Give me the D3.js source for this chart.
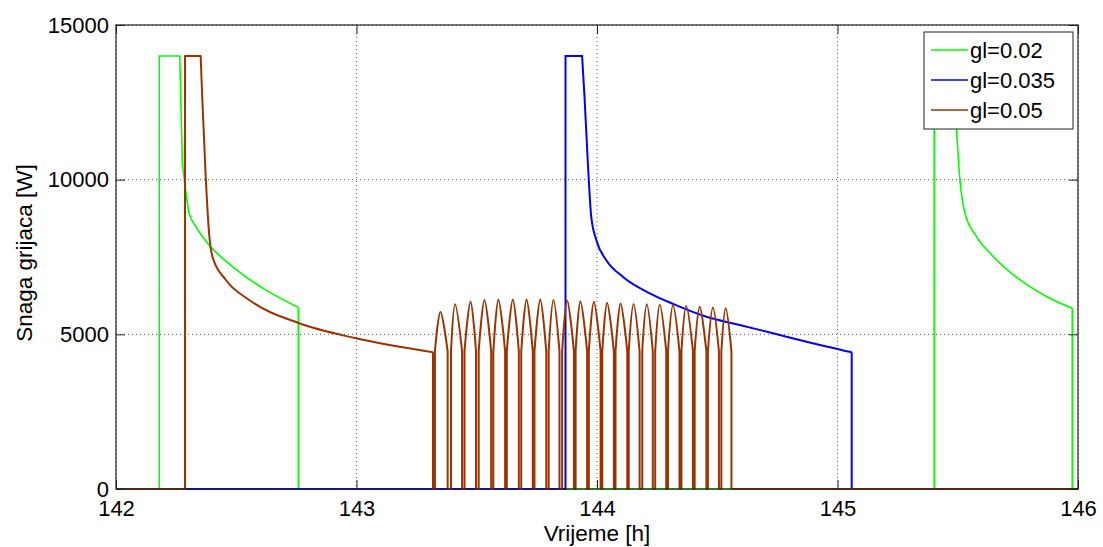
<!DOCTYPE html>
<html>
<head>
<meta charset="utf-8">
<script src="https://cdn.jsdelivr.net/npm/d3@7"></script>
<style>
    body { margin: 0; background: #fff; }
    text { font-family: "Liberation Sans", Arial, sans-serif; fill: #000; }
</style>
</head>
<body>
<div id="chart"></div>
<script>
// ticks and legend
var xTicks = [142, 143, 144, 145, 146];
var yTicks = [0, 5000, 10000, 15000];
var seriesNames = ["gl=0.02", "gl=0.035", "gl=0.05"];
var seriesColors = ["#00ff00", "#0000ff", "#993300"];

// gl=0.02  (time [h], power [W])
var greenT = [142, 142.180, 142.180, 142.265, 142.276, 142.293, 142.304, 142.332, 142.387, 142.484, 142.623, 142.758, 142.758,
    145.402, 145.402, 145.486, 145.495, 145.509, 145.530, 145.578, 145.648, 145.759, 145.870, 145.976, 145.976, 146];
var greenW = [0, 0, 14000, 14000, 10530, 9450, 8920, 8480, 7890, 7190, 6430, 5870, 0,
    0, 14000, 14000, 11607, 9990, 8913, 8157, 7510, 6757, 6217, 5842, 0, 0];

// gl=0.035
var blueT = [142, 143.869, 143.869, 143.938, 143.948, 143.962, 143.976, 143.997, 144.038, 144.107, 144.219, 144.316,
    144.455, 144.593, 144.732, 144.871, 145.059, 145.059, 146];
var blueW = [0, 0, 14000, 14000, 12684, 10530, 8804, 8050, 7404, 6864, 6327, 5987,
    5570, 5302, 5034, 4762, 4420, 0, 0];

// gl=0.05 : first pulse
var brownLeadT = [142, 142.287, 142.287, 142.352, 142.359, 142.373, 142.387, 142.401, 142.457, 142.554, 142.762, 142.998, 143.318, 143.318];
var brownLeadW = [0, 0, 14000, 14000, 12577, 10097, 8267, 7510, 6757, 6110, 5357, 4872, 4420, 0];

// gl=0.05 : on/off cycling
var cycleOnT = [143.326, 143.393, 143.449, 143.508, 143.569, 143.625, 143.685, 143.740, 143.799, 143.855, 143.911,
    143.966, 144.022, 144.077, 144.132, 144.188, 144.242, 144.295, 144.351, 144.406, 144.461, 144.517];
var cyclePeakT = [143.349, 143.410, 143.474, 143.532, 143.590, 143.650, 143.707, 143.764, 143.819, 143.876, 143.931,
    143.987, 144.042, 144.098, 144.152, 144.207, 144.261, 144.316, 144.371, 144.427, 144.482, 144.535];
var cyclePeakW = [5730, 5970, 6060, 6110, 6130, 6130, 6130, 6130, 6110, 6090, 6070,
    6050, 6020, 6000, 5980, 5970, 5960, 5940, 5920, 5890, 5870, 5840];
var cycleOffT = [143.379, 143.439, 143.497, 143.560, 143.618, 143.675, 143.733, 143.789, 143.844, 143.904, 143.959,
    144.015, 144.070, 144.126, 144.177, 144.232, 144.288, 144.343, 144.399, 144.455, 144.507, 144.559];
var cycleEdgeW = 4450;
var brownEndT = 146;

// index ranges of the cooling-down (smooth) parts of each series
var greenSmooth = [[4, 11], [16, 23]];
var blueSmooth = [[4, 16]];
var brownSmooth = [[4, 12]];

var W = 1103, H = 547;
var margin = { top: 25, right: 25, bottom: 58, left: 116 },
    width = W - margin.left - margin.right,
    height = H - margin.top - margin.bottom;

var svg = d3.select("#chart")
    .append("svg")
    .attr("width", W)
    .attr("height", H)
    .append("g")
    .attr("transform", "translate(" + margin.left + "," + margin.top + ")");

var x = d3.scaleLinear().domain([142, 146]).range([0, width]);
var y = d3.scaleLinear().domain([0, 15000]).range([height, 0]);

// dotted grid
svg.append("g").selectAll("line").data(xTicks).enter().append("line")
    .attr("x1", d => x(d)).attr("x2", d => x(d))
    .attr("y1", 0).attr("y2", height)
    .attr("stroke", "#555").attr("stroke-dasharray", "1,3");
svg.append("g").selectAll("line").data(yTicks).enter().append("line")
    .attr("y1", d => y(d)).attr("y2", d => y(d))
    .attr("x1", 0).attr("x2", width)
    .attr("stroke", "#555").attr("stroke-dasharray", "1,3");

svg.append("clipPath").attr("id", "clip")
    .append("rect").attr("width", width).attr("height", height + 1);

var plot = svg.append("g").attr("clip-path", "url(#clip)");

var lineLin = d3.line().x(d => x(d[0])).y(d => y(d[1]));
var lineSmooth = d3.line().x(d => x(d[0])).y(d => y(d[1])).curve(d3.curveMonotoneX);
var arch = d3.line().x(d => x(d[0])).y(d => y(d[1])).curve(d3.curveCatmullRom);

// straight steps, with the given index ranges drawn as smooth curves
function seriesPath(T, Wv, smooth) {
    var pts = d3.zip(T, Wv);
    var d = "", start = 0;
    smooth.forEach(function(r) {
        d += lineLin(pts.slice(start, r[0] + 1));
        d += lineSmooth(pts.slice(r[0], r[1] + 1));
        start = r[1];
    });
    d += lineLin(pts.slice(start));
    return d;
}

plot.append("path")
    .attr("d", seriesPath(greenT, greenW, greenSmooth))
    .attr("fill", "none").attr("stroke", seriesColors[0]).attr("stroke-width", 1.6);

plot.append("path")
    .attr("d", seriesPath(blueT, blueW, blueSmooth))
    .attr("fill", "none").attr("stroke", seriesColors[1]).attr("stroke-width", 2);

// brown: lead pulse, then each cycle
var dBrown = seriesPath(brownLeadT, brownLeadW, brownSmooth);
var prevT = brownLeadT[brownLeadT.length - 1];
cycleOnT.forEach(function(on, i) {
    dBrown += lineLin([[prevT, 0], [on, 0], [on, cycleEdgeW]]);
    dBrown += arch([[on, cycleEdgeW], [cyclePeakT[i], cyclePeakW[i]], [cycleOffT[i], cycleEdgeW]]);
    dBrown += lineLin([[cycleOffT[i], cycleEdgeW], [cycleOffT[i], 0]]);
    prevT = cycleOffT[i];
});
dBrown += lineLin([[prevT, 0], [brownEndT, 0]]);

plot.append("path")
    .attr("d", dBrown)
    .attr("fill", "none").attr("stroke", seriesColors[2]).attr("stroke-width", 2)
    .attr("stroke-linejoin", "round");

// axes, ticks inward on all four sides
function styleAxis(g) {
    g.selectAll(".domain").remove();
    g.selectAll(".tick line").attr("stroke", "#222");
    g.selectAll(".tick text").style("font-size", "22px").attr("fill", "#000")
        .style("font-family", '"Liberation Sans", Arial, sans-serif');
}

svg.append("g")
    .attr("transform", "translate(0," + height + ")")
    .call(d3.axisBottom(x).tickValues(xTicks).tickSizeInner(-9).tickSizeOuter(0).tickPadding(11).tickFormat(d3.format("d")))
    .call(styleAxis);
svg.append("g")
    .call(d3.axisTop(x).tickValues(xTicks).tickSizeInner(-9).tickSizeOuter(0).tickFormat(""))
    .call(styleAxis);
svg.append("g")
    .call(d3.axisLeft(y).tickValues(yTicks).tickSizeInner(-9).tickSizeOuter(0).tickPadding(7).tickFormat(d3.format("d")))
    .call(styleAxis);
svg.append("g")
    .attr("transform", "translate(" + width + ",0)")
    .call(d3.axisRight(y).tickValues(yTicks).tickSizeInner(-9).tickSizeOuter(0).tickFormat(""))
    .call(styleAxis);

svg.append("rect")
    .attr("width", width).attr("height", height)
    .attr("fill", "none").attr("stroke", "#222").attr("stroke-width", 1.2);

// axis labels
svg.append("text")
    .attr("x", width / 2).attr("y", height + 52)
    .attr("text-anchor", "middle")
    .style("font-size", "22.5px")
    .text("Vrijeme [h]");
svg.append("text")
    .attr("transform", "translate(" + (32 - margin.left) + "," + (height / 2 - 4) + ")rotate(-90)")
    .attr("text-anchor", "middle")
    .style("font-size", "22.5px")
    .text("Snaga grijaca [W]");

// legend
var lg = svg.append("g").attr("transform", "translate(" + (924 - margin.left) + "," + (32 - margin.top) + ")");
lg.append("rect").attr("width", 149).attr("height", 97)
    .attr("fill", "#fff").attr("stroke", "#222").attr("stroke-width", 1);
seriesNames.forEach(function(name, i) {
    var ly = 18 + i * 30;
    lg.append("line").attr("x1", 7).attr("x2", 44).attr("y1", ly).attr("y2", ly)
        .attr("stroke", seriesColors[i]).attr("stroke-width", 1.5);
    lg.append("text").attr("x", 46).attr("y", ly).attr("dy", "0.35em")
        .style("font-size", "22px").text(name);
});
</script>
</body>
</html>
